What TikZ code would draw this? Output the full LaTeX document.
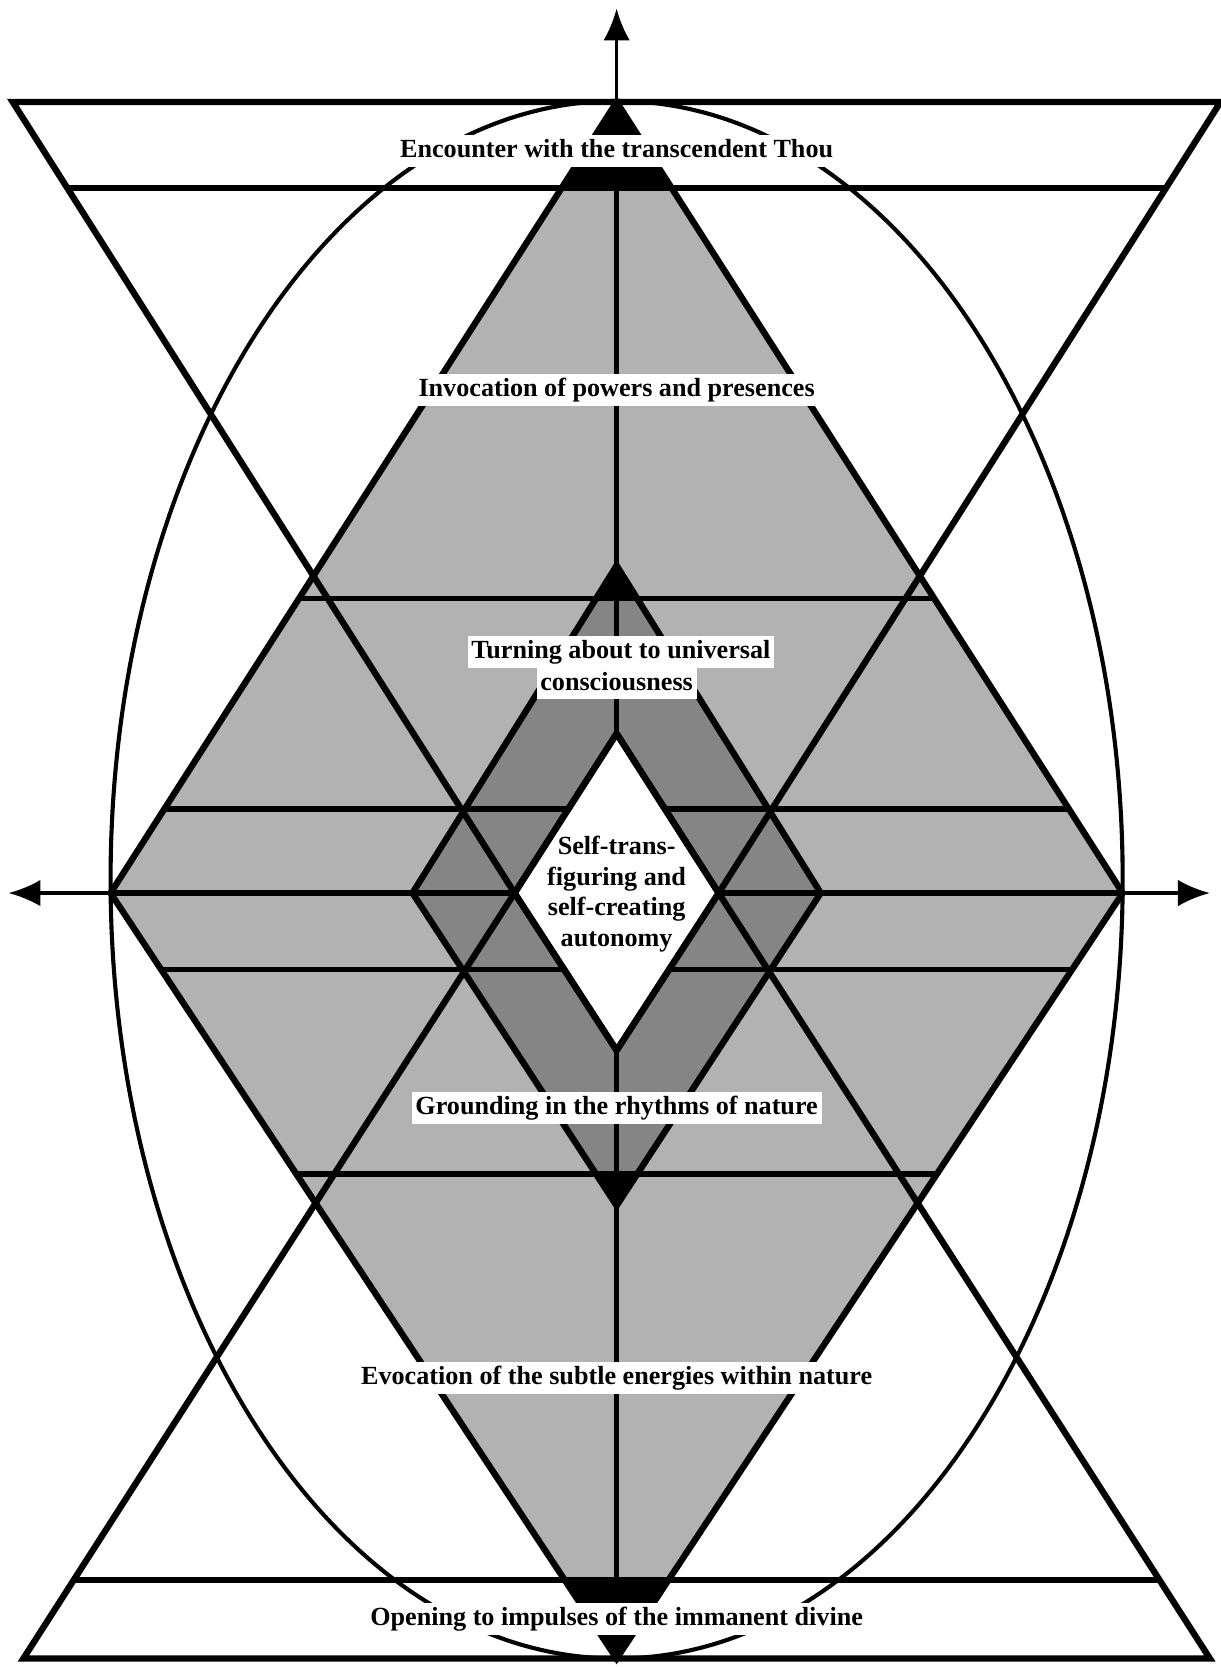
\documentclass[tikz,border=0pt]{standalone}
\usepackage{fontspec}
\setmainfont{Liberation Serif}
\usetikzlibrary{arrows.meta}
\definecolor{stiplight}{gray}{0.70}
\definecolor{stipdark}{gray}{0.52}

\begin{document}
\begin{tikzpicture}[
  x=0.2mm, y=-0.2mm,
  font=\fontsize{14}{16.5}\selectfont\bfseries,
  rim/.style={line width=3.4pt, line join=miter},
  bar/.style={line width=3pt},
  orb/.style={line width=2.2pt},
  axis/.style={line width=1.8pt},
  arr/.style={-{Latex[length=6mm, width=5mm]}, axis},
  lbl/.style={fill=white, inner xsep=2pt, inner ysep=2pt, text height=10pt, text depth=3pt},
]
\useasboundingbox (0,0) rectangle (1148,1568);

% --- Key points: outer, middle and core rhombus, hourglass corners ---
\coordinate (on) at (580,96);   \coordinate (ow) at (104,840);
\coordinate (os) at (580,1560); \coordinate (oe) at (1056,840);
\coordinate (mn) at (580,532);  \coordinate (mw) at (388,840);
\coordinate (ms) at (580,1134); \coordinate (me) at (772,840);
\coordinate (cn) at (580,690);  \coordinate (cw) at (484,840);
\coordinate (cs) at (580,988);  \coordinate (ce) at (676,840);
\coordinate (tl) at (12,96);    \coordinate (tr) at (1148,96);
\coordinate (bl) at (22,1560);  \coordinate (br) at (1138,1560);

% --- Fills ---
\fill[stiplight] (on) -- (ow) -- (os) -- (oe) -- cycle;
\fill[stipdark] (mn) -- (mw) -- (ms) -- (me) -- cycle;
\fill[black] (on) -- (528.2,177) -- (631.8,177) -- cycle;
\fill[black] (os) -- (531.1,1486) -- (628.9,1486) -- cycle;
\fill[black] (mn) -- (560.7,563) -- (599.3,563) -- cycle;
\fill[black] (ms) -- (560.4,1104) -- (599.6,1104) -- cycle;

% --- Enclosing oval ---
\draw[orb] (580,827.5) ellipse [x radius=476, y radius=732.5];

% --- Axes ---
\coordinate (up) at (580,8);
\coordinate (left) at (8,840);
\coordinate (right) at (1138,840);
\draw[arr] (on) -- (up);
\draw[axis, {Latex[length=6mm, width=5mm]}-{Latex[length=6mm, width=5mm]}] (left) -- (right);
\draw[bar] (ow) -- (oe);
\draw[bar] (on) -- (os);

% --- Cross bars ---
\draw[bar] (63.4,177) -- (1096.6,177);
\draw[bar] (281.2,563) -- (878.8,563);
\draw[bar] (154.5,761) -- (1005.5,761);
\draw[bar] (151.6,912) -- (1008.4,912);
\draw[bar] (278.5,1104) -- (881.5,1104);
\draw[bar] (69.5,1486) -- (1090.5,1486);

% --- Core ---
\fill[white] (cn) -- (cw) -- (cs) -- (ce) -- cycle;

% --- Outlines ---
\draw[rim] (tl) -- (tr) -- (ce) -- (cs) -- (cw) -- cycle;
\draw[rim] (bl) -- (cw) -- (cn) -- (ce) -- (br) -- cycle;
\draw[rim] (on) -- (ow) -- (os) -- (oe) -- cycle;
\draw[rim] (mn) -- (mw) -- (ms) -- (me) -- cycle;
\draw[rim] (cn) -- (cw) -- (cs) -- (ce) -- cycle;

% --- Labels ---
\node[lbl] (thou) at (580,142) {Encounter with the transcendent Thou};
\node[lbl] (powers) at (580,367) {Invocation of powers and presences};
\node[lbl] (turnb) at (580,643) {consciousness};
\node[lbl] (turna) at (584,613) {Turning about to universal};
\node[align=center, inner sep=0pt] (core) at (580,841) {Self-trans-\\figuring and\\self-creating\\autonomy};
\node[lbl] (ground) at (580,1042) {Grounding in the rhythms of nature};
\node[lbl] (subtle) at (580,1296) {Evocation of the subtle energies within nature};
\node[lbl] (immanent) at (580,1523) {Opening to impulses of the immanent divine};

\end{tikzpicture}
\end{document}
